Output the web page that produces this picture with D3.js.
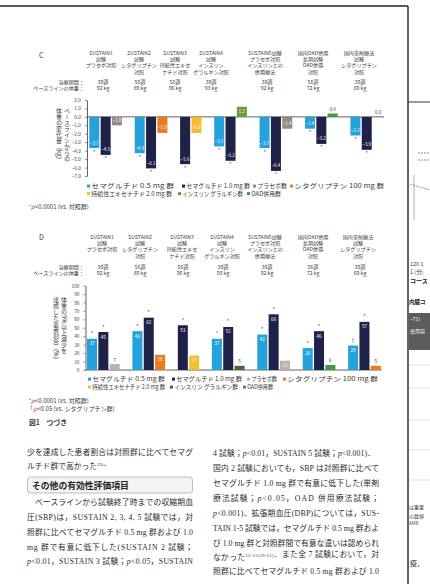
<!DOCTYPE html>
<html><head><meta charset="utf-8">
<script src="https://cdn.jsdelivr.net/npm/d3@7"></script>
<style>
html,body{margin:0;padding:0;background:#fff;}
svg{display:block;}
.cj{font-family:"Noto Sans CJK JP","Noto Sans",sans-serif;}
.body{font-family:"Liberation Serif","Noto Sans CJK JP",serif;}
</style></head><body>
<svg id="page" width="430" height="584"></svg>
<script>
// ---------------- DATA ----------------
const studyHeaders = [
  ["SUSTAIN1","試験","プラセボ対照"],
  ["SUSTAIN2","試験","シタグリプチン","対照"],
  ["SUSTAIN3","試験","持続性エキセ","ナチド対照"],
  ["SUSTAIN4","試験","インスリン","グラルギン対照"],
  ["SUSTAIN5試験","プラセボ対照","インスリンとの","併用療法"],
  ["国内OAD併用","長期試験","OAD併用","対照"],
  ["国内単剤療法","試験","シタグリプチン","対照"]
];
const durations = ["30週","56週","56週","30週","30週","56週","30週"];
const baseWeights = ["92 kg","89 kg","96 kg","93 kg","92 kg","72 kg","69 kg"];
const seriesKeys = ["sema05","sema10","placebo","sita","exe","glar","oad"];
const seriesNames = ["セマグルチド 0.5 mg 群","セマグルチド 1.0 mg 群","プラセボ群","シタグリプチン 100 mg 群","持続性エキセナチド 2.0 mg 群","インスリン グラルギン群","OAD併用群"];
const groupSeries = [
  ["sema05","sema10","placebo"],
  ["sema05","sema10","sita"],
  ["sema10","exe"],
  ["sema05","sema10","glar"],
  ["sema05","sema10","placebo"],
  ["sema05","sema10","oad"],
  ["sema05","sema10","sita"]
];
// C: change in body weight from baseline (kg)
const weightChange = [[-3.7,-4.5,-1.0],[-4.3,-6.1,-1.9],[-5.6,-1.9],[-3.5,-5.2,1.2],[-3.7,-6.4,-1.4],[-1.4,-3.2,0.4],[-2.2,-3.9,0.0]];
const weightChangeSig = [["*","*",""],["*","*",""],["*",""],["*","*",""],["*","*",""],["*","*",""],["*","*",""]];
// D: proportion achieving >=5% weight loss (%)
const achieved5 = [[37,45,7],[46,62,18],[53,17],[37,51,5],[42,66,11],[26,46,6],[29,57,5]];
const achieved5Sig = [["*","*",""],["*","*",""],["*",""],["*","*",""],["*","*",""],["*","*",""],["†","*",""]];
const ticksC = [2,1,0,-1,-2,-3,-4,-5,-6,-7];
const ticksD = [0,10,20,30,40,50,60,70,80,90,100];
const legendRows = [["sema05","sema10","placebo","sita"],["exe","glar","oad"]];

// ---------------- STYLE / LAYOUT ----------------
const colors = {sema05:"#25a2dc",sema10:"#1e2148",placebo:"#948a83",sita:"#e97c22",exe:"#f4bd2e",glar:"#6e9c33",oad:"#3a9c45"};
const colorsD = Object.assign({}, colors, {placebo:"#b9b1ab", glar:"#3f6e2c"});
const ink = "#3a3a3a";
const svg = d3.select("#page");

function buildBars(values, sig){
  const bars = []; let slot = 0;
  values.forEach((vals,gi)=>{
    vals.forEach((v,j)=>{ bars.push({g:gi,key:groupSeries[gi][j],v:v,sig:sig[gi][j],slot:slot}); slot++; });
    slot++;
  });
  return {bars, nSlots: slot-1};
}

// Page frame
svg.append("line").attr("x1",0).attr("x2",408).attr("y1",6).attr("y2",6).attr("stroke","#222").attr("stroke-width",1.4);
svg.append("line").attr("x1",408).attr("x2",408).attr("y1",6).attr("y2",584).attr("stroke","#222").attr("stroke-width",1.4);

function drawPanel(opt){
  const g = svg.append("g").attr("class","cj");
  g.append("text").attr("x",opt.letterX).attr("y",opt.letterY).attr("font-size",7).attr("fill",ink).text(opt.letter);
  studyHeaders.forEach((lines,i)=>{
    lines.forEach((t,k)=>{
      g.append("text").attr("x",opt.headX[i]).attr("y",opt.headY+k*6.2).attr("text-anchor","middle")
        .attr("font-size",5.1).attr("fill",ink).text(t);
    });
    g.append("text").attr("x",opt.durX[i]).attr("y",opt.durY).attr("text-anchor","middle").attr("font-size",5.2).attr("fill",ink).text(durations[i]);
    g.append("text").attr("x",opt.durX[i]).attr("y",opt.durY+6.2).attr("text-anchor","middle").attr("font-size",5.2).attr("fill",ink).text(baseWeights[i]);
  });
  g.append("text").attr("x",84).attr("y",opt.durY).attr("text-anchor","end").attr("font-size",5.1).attr("fill",ink).text("治療期間：");
  g.append("text").attr("x",84).attr("y",opt.durY+6.2).attr("text-anchor","end").attr("font-size",5.1).attr("fill",ink).text("ベースラインの体重：");

  const {bars,nSlots} = buildBars(opt.values, opt.sig);
  const x = d3.scaleBand().domain(d3.range(nSlots)).range([opt.x0, opt.x0 + nSlots*11.3]).paddingInner(0.12).paddingOuter(0);
  const y = d3.scaleLinear().domain(opt.domain).range(opt.range);

  const ax = g.append("g").attr("transform",`translate(${opt.axisX},0)`)
    .call(d3.axisLeft(y).tickValues(opt.ticks).tickSize(2).tickSizeOuter(0).tickFormat(opt.fmt));
  ax.select(".domain").attr("stroke",ink).attr("stroke-width",0.8);
  ax.selectAll(".tick line").attr("stroke",ink).attr("stroke-width",0.6);
  ax.selectAll(".tick text").attr("font-size",4.8).attr("fill",ink).attr("font-family","Noto Sans CJK JP").attr("dx",-1);

  opt.ytitle.forEach((t,k)=>{
    g.append("text").attr("x",opt.ytitleX[k]).attr("y",opt.ytitleY).attr("font-size",6).attr("fill",ink)
      .style("writing-mode","vertical-rl").text(t);
  });

  g.append("line").attr("x1",opt.axisX).attr("x2",opt.x0 + nSlots*11.3+1).attr("y1",y(0)).attr("y2",y(0)).attr("stroke",ink).attr("stroke-width",0.8);

  const col = opt.colors;
  g.selectAll("rect.bar").data(bars).join("rect").attr("class","bar")
    .attr("x",d=>x(d.slot)).attr("width",x.bandwidth())
    .attr("y",d=>Math.min(y(d.v),y(0))).attr("height",d=>Math.max(Math.abs(y(d.v)-y(0)),0.01))
    .attr("fill",d=>col[d.key]);
  opt.labels(g,bars,x,y);
  opt.stars(g,bars,x,y);

  legendRows.forEach((row,r)=>{
    row.forEach((k,i)=>{
      const [lx,ex] = opt.leg[r][i], ly = opt.legY[r];
      g.append("rect").attr("x",lx).attr("y",ly-3.4).attr("width",3).attr("height",3).attr("fill",col[k]);
      g.append("text").attr("x",lx+4.3).attr("y",ly).attr("font-size",6.2).attr("fill",ink)
        .attr("textLength",ex-lx-4.3).attr("lengthAdjust","spacingAndGlyphs")
        .text(seriesNames[seriesKeys.indexOf(k)]);
    });
  });
}

// Panel C
drawPanel({
  letter:"C", letterX:39, letterY:58,
  headX:[101,139,175,211,265,313,359], headY:55, durX:[103,140,175,211,267,313,360], durY:83.5,
  values:weightChange, sig:weightChangeSig, x0:89.3, axisX:87,
  domain:[-7,2], range:[176,100], ticks:ticksC, fmt:d3.format(".1f"),
  ytitle:["ベースラインからの","体重の変化量（kg）"], ytitleX:[67,59], ytitleY:108,
  colors:colors,
  leg:[[[87,174],[182,250],[253,287],[290,384]],[[87,172],[178,243],[247,281]]], legY:[188,195.5],
  labels:(g,bars,x,y)=>{
    g.selectAll("text.vl").data(bars).join("text").attr("class","vl")
      .attr("x",d=>x(d.slot)+x.bandwidth()/2)
      .attr("y",d=> d.v<0 ? y(d.v)-3.5 : (d.v>=1 ? y(d.v)+6 : y(d.v)-2.5))
      .attr("text-anchor","middle").attr("font-size",4.4)
      .attr("fill",d=> (d.v<0 || d.v>=1) ? "#fff" : ink)
      .text(d=>d3.format(".1f")(d.v));
  },
  stars:(g,bars,x,y)=>{
    g.selectAll("text.st").data(bars.filter(d=>d.sig)).join("text").attr("class","st")
      .attr("x",d=>x(d.slot)+x.bandwidth()/2).attr("y",d=>y(d.v)+5.5)
      .attr("text-anchor","middle").attr("font-size",5).attr("fill",ink).text(d=>d.sig);
  }
});

// Panel D
drawPanel({
  letter:"D", letterX:39, letterY:240,
  headX:[102,140,182,222,265,313,358], headY:239, durX:[103,140,183,223,267,313,360], durY:268.5,
  values:achieved5, sig:achieved5Sig, x0:87, axisX:85.5,
  domain:[0,100], range:[370,285.6], ticks:ticksD, fmt:d3.format("d"),
  ytitle:["体重の5%以上減少を","達成した患者割合（%）"], ytitleX:[64,56], ytitleY:297,
  colors:colorsD,
  leg:[[[88,165],[172,242],[247,277],[283,378]],[[88,165],[170,238],[243,273]]], legY:[381,389],
  labels:(g,bars,x,y)=>{
    g.selectAll("text.vl").data(bars).join("text").attr("class","vl")
      .attr("x",d=>x(d.slot)+x.bandwidth()/2)
      .attr("y",d=> d.v>=9 ? y(d.v)+6.5 : y(d.v)-2.5)
      .attr("text-anchor","middle").attr("font-size",4.6)
      .attr("fill",d=> d.v>=9 ? "#fff" : ink)
      .text(d=>d.v);
  },
  stars:(g,bars,x,y)=>{
    g.selectAll("text.st").data(bars.filter(d=>d.sig)).join("text").attr("class","st")
      .attr("x",d=>x(d.slot)+x.bandwidth()/2).attr("y",d=>y(d.v)-3.5)
      .attr("text-anchor","middle").attr("font-size",5).attr("fill",ink).text(d=>d.sig);
  }
});

// Footnotes
const fn = svg.append("g").attr("class","cj").attr("font-size",6).attr("fill",ink);
function footnote(xp,yp,mark,rest){
  const t = fn.append("text").attr("x",xp).attr("y",yp);
  t.append("tspan").attr("font-size",4.5).attr("dy",-1.5).text(mark);
  t.append("tspan").attr("dy",1.5).attr("fill","#c8432b").attr("font-style","italic").text("p");
  t.append("tspan").text(rest);
}
footnote(29,209,"*","<0.0001 (vs. 対照群)");
footnote(29,403,"*","<0.0001 (vs. 対照群)");
footnote(29,410.5,"†","<0.05 (vs. シタグリプチン群)");
fn.append("text").attr("x",29).attr("y",425).attr("font-size",6.8).attr("font-weight","bold").text("図1　つづき");

// Body text
const bt = svg.append("g").attr("class","body").attr("fill","#2a2a2a").attr("font-size",7.8);
function line(xp,yp,parts,justify){
  const t = bt.append("text").attr("x",xp).attr("y",yp);
  parts.forEach(p=>{
    if(typeof p==="string") t.append("tspan").text(p);
    else if(p.sup) { t.append("tspan").attr("font-size",4.6).attr("dy",-3).text(p.sup); t.append("tspan").attr("dy",3).text(""); }
    else if(p.it) t.append("tspan").attr("font-style","italic").text(p.it);
  });
  if(justify) t.attr("textLength",justify).attr("lengthAdjust","spacing");
}
const W = 166;
line(27,455,["少を達成した患者割合は対照群に比べてセマグ"],W);
line(27,469,["ルチド群で高かった",{sup:"23)"},"．"]);
line(27,505,["　ベースラインから試験終了時までの収縮期血"],W);
line(27,520,["圧(SBP)は，SUSTAIN 2, 3, 4, 5 試験では，対"],W);
line(27,535,["照群に比べてセマグルチド 0.5 mg 群および 1.0"],W);
line(27,550,["mg 群で有意に低下した(SUSTAIN 2 試験；"],W);
line(27,564,[{it:"p"},"<0.01，SUSTAIN 3 試験；",{it:"p"},"<0.05，SUSTAIN"],W);

const X2 = 213, W2 = 166;
line(X2,456,["4 試験；",{it:"p"},"<0.01，SUSTAIN 5 試験；",{it:"p"},"<0.001)．"],W2-4);
line(X2,471,["国内 2 試験においても，SBP は対照群に比べて"],W2);
line(X2,486,["セマグルチド 1.0 mg 群で有意に低下した(単剤"],W2);
line(X2,501,["療法試験；",{it:"p"},"<0.05，OAD 併用療法試験；"],W2);
line(X2,516,[{it:"p"},"<0.001)．拡張期血圧(DBP)については，SUS-"],W2);
line(X2,531,["TAIN 1-5 試験では，セマグルチド 0.5 mg 群およ"],W2);
line(X2,546,["び 1.0 mg 群と対照群間で有意な違いは認められ"],W2);
line(X2,560,["なかった",{sup:"13-15)19-21)"},"．また全 7 試験において，対"],W2);
line(X2,574,["照群に比べてセマグルチド 0.5 mg 群および 1.0"],W2);

// heading box
const hb = svg.append("g").attr("class","cj");
hb.append("rect").attr("x",27.5).attr("y",477).attr("width",165).attr("height",16).attr("rx",3)
  .attr("fill","#f4f4f4").attr("stroke","#bdbdbd").attr("stroke-width",1);
hb.append("text").attr("x",32).attr("y",488.5).attr("font-size",8.8).attr("font-weight","bold").attr("fill","#222").text("その他の有効性評価項目");

// Neighbouring page fragment (right edge)
const rp = svg.append("g").attr("class","cj").attr("fill","#444");
rp.append("line").attr("x1",408).attr("x2",430).attr("y1",102).attr("y2",102).attr("stroke","#333").attr("stroke-width",1);
rp.append("line").attr("x1",418).attr("x2",430).attr("y1",153).attr("y2",153).attr("stroke","#666").attr("stroke-width",0.7).attr("stroke-dasharray","2,1");
rp.append("line").attr("x1",418).attr("x2",430).attr("y1",160).attr("y2",160).attr("stroke","#666").attr("stroke-width",0.7).attr("stroke-dasharray","2,1");
rp.append("line").attr("x1",414).attr("x2",414).attr("y1",175).attr("y2",220).attr("stroke","#777").attr("stroke-width",0.6);
rp.append("line").attr("x1",410).attr("x2",430).attr("y1",184).attr("y2",190).attr("stroke","#666").attr("stroke-width",0.7).attr("stroke-dasharray","2,1");
rp.append("text").attr("x",410).attr("y",266).attr("font-size",5.5).text("120  1");
rp.append("text").attr("x",410).attr("y",274).attr("font-size",5.5).text("1 (分)");
rp.append("text").attr("x",410).attr("y",283).attr("font-size",6).attr("font-weight","bold").attr("fill","#222").text("コース");
rp.append("text").attr("x",409).attr("y",304).attr("font-size",5.5).attr("font-weight","bold").attr("fill","#222").text("内臓コ");
rp.append("rect").attr("x",409).attr("y",313).attr("width",21).attr("height",37).attr("fill","#5c5c5c");
rp.append("text").attr("x",410).attr("y",321).attr("font-size",5).attr("fill","#fff").text("−71)");
rp.append("text").attr("x",410).attr("y",333).attr("font-size",5).attr("fill","#fff").text("使用前");
[365,388,420,450,480].forEach(v=>rp.append("line").attr("x1",409).attr("x2",430).attr("y1",v).attr("y2",v).attr("stroke","#ccc").attr("stroke-width",0.6));
rp.append("text").attr("x",409).attr("y",509).attr("font-size",5).text("は重量");
rp.append("text").attr("x",409).attr("y",518).attr("font-size",5).text("の数値");
rp.append("text").attr("x",409).attr("y",525).attr("font-size",4.5).text("AMB");
rp.append("text").attr("x",410).attr("y",566).attr("font-size",7).attr("fill","#222").text("疫、");
</script>
</body></html>
